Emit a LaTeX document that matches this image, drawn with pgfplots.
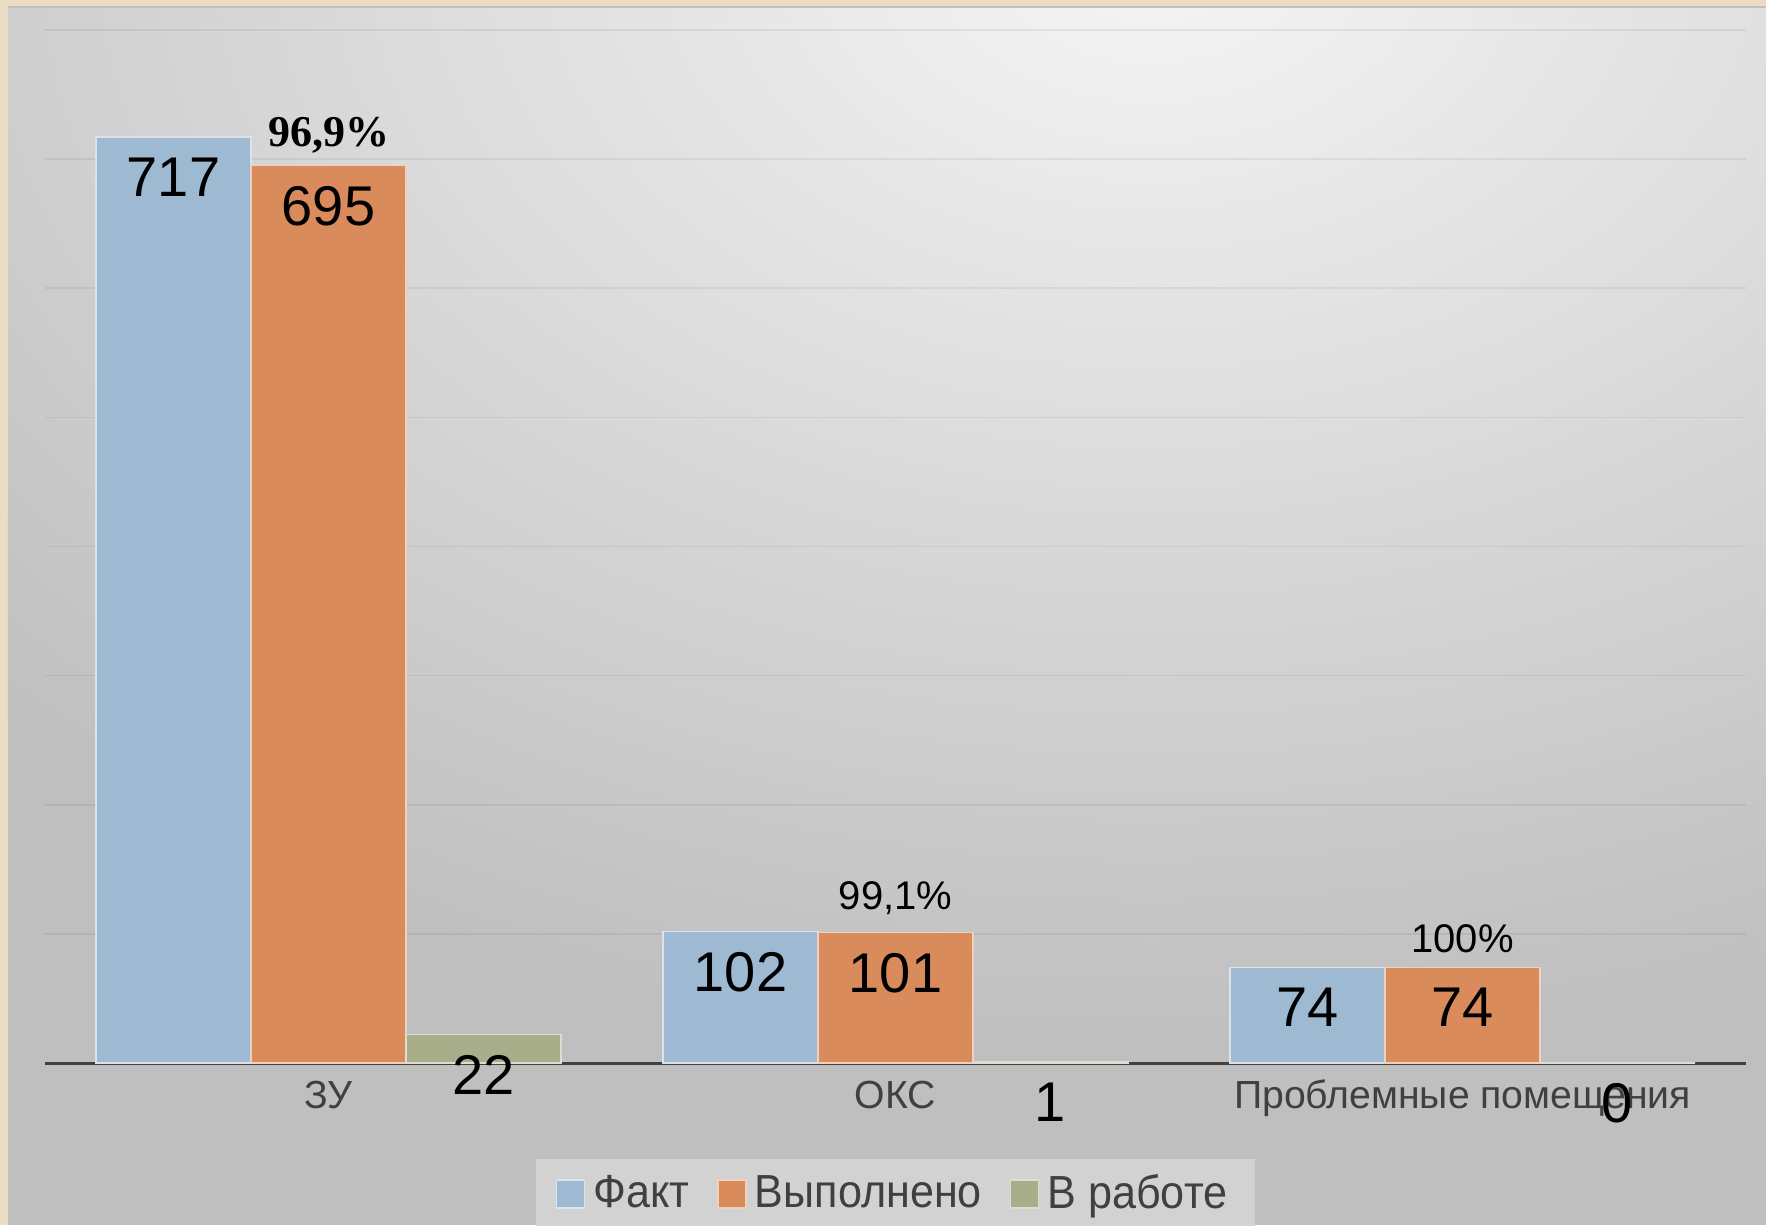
\documentclass[border=0pt]{standalone}
\usepackage{fontspec}
\setmainfont{Liberation Sans}
\newfontfamily\serifbold{Liberation Serif}[BoldFont=* Bold]
\newfontfamily\legfont{Liberation Sans}[FakeStretch=0.93]
\usepackage{pgfplots}
\pgfplotsset{compat=1.18}

\definecolor{cBlue}{RGB}{158,186,211}
\definecolor{cOrange}{RGB}{218,139,92}
\definecolor{cGreen}{RGB}{167,174,137}
\definecolor{beige}{RGB}{235,221,195}
\definecolor{txtgray}{RGB}{64,64,64}
\definecolor{legbg}{RGB}{210,210,210}
\definecolor{bgout}{RGB}{191,191,191}
\definecolor{bgin}{RGB}{245,245,245}

\begin{document}
\begin{tikzpicture}
% background frame and gradient
\fill[beige] (-11.25pt,-40.5pt) rectangle (430.25pt,265.75pt);
\begin{scope}
  \clip (-9.25pt,-40.5pt) rectangle (430.25pt,264.25pt);
  \fill[bgout] (-9.25pt,-40.5pt) rectangle (430.25pt,264.25pt);
  \shade[inner color=bgin, outer color=bgout] (276.25pt,278pt) ellipse (400pt and 275pt);
\end{scope}
\draw[color=black!25, line width=0.5pt] (-9.25pt,264pt) -- (430.25pt,264pt);

\begin{axis}[
  at={(0,0)}, anchor=south west,
  width=425.25pt, height=258.25pt, scale only axis,
  xmin=-0.5, xmax=2.5, ymin=0, ymax=800,
  ybar=0pt, bar width=38.75pt,
  /pgf/number format/assume math mode=true,
  axis x line*=bottom, axis y line*=left,
  y axis line style={draw=none},
  x axis line style={draw=txtgray, line width=0.75pt},
  xtick={0,1,2},
  xticklabels={ЗУ, ОКС, Проблемные помещения},
  major tick length=0pt,
  xticklabel style={font=\fontsize{9.8}{11}\selectfont, text=txtgray, anchor=base, inner sep=0pt, yshift=-11.25pt},
  ytick={0,100,...,800}, yticklabels={},
  ymajorgrids, grid style={draw=black, opacity=0.06, line width=0.4pt},
  nodes near coords,
  nodes near coords style={font=\fontsize{14}{16}\selectfont, text=black, anchor=north, inner sep=0pt, yshift=-5pt},
  legend columns=3,
  legend style={at={(0.5,0)}, anchor=north, yshift=-23.75pt, draw=none, fill=legbg,
    font=\legfont\fontsize{11.6}{13}\selectfont, text=txtgray, inner xsep=5pt, inner ysep=2pt,
    /tikz/every even column/.append style={column sep=5pt}},
  legend image code/.code={\fill[#1] (0pt,-3.3pt) rectangle (7pt,3.7pt);},
]
\addplot[fill=cBlue, draw=white!60!cBlue, line width=0.4pt] coordinates {(0,717) (1,102) (2,74)};
\addplot[fill=cOrange, draw=white!60!cOrange, line width=0.4pt] coordinates {(0,695) (1,101) (2,74)};
\addplot[fill=cGreen, draw=white!60!cGreen, line width=0.4pt] coordinates {(0,22) (1,1) (2,0)};
\legend{Факт, Выполнено, В работе}

\node[anchor=base, font=\serifbold\bfseries\fontsize{11}{13}\selectfont, yshift=4.75pt] at (axis cs:0,695) {96,9\%};
\node[anchor=base, font=\fontsize{10}{12}\selectfont, yshift=5.75pt] at (axis cs:1,101) {99,1\%};
\node[anchor=base, font=\fontsize{10}{12}\selectfont, yshift=3.75pt] at (axis cs:2,74) {100\%};
\end{axis}

\pgfresetboundingbox
\path[use as bounding box] (-11.25pt,-40.5pt) rectangle (430.25pt,265.75pt);
\end{tikzpicture}
\end{document}
